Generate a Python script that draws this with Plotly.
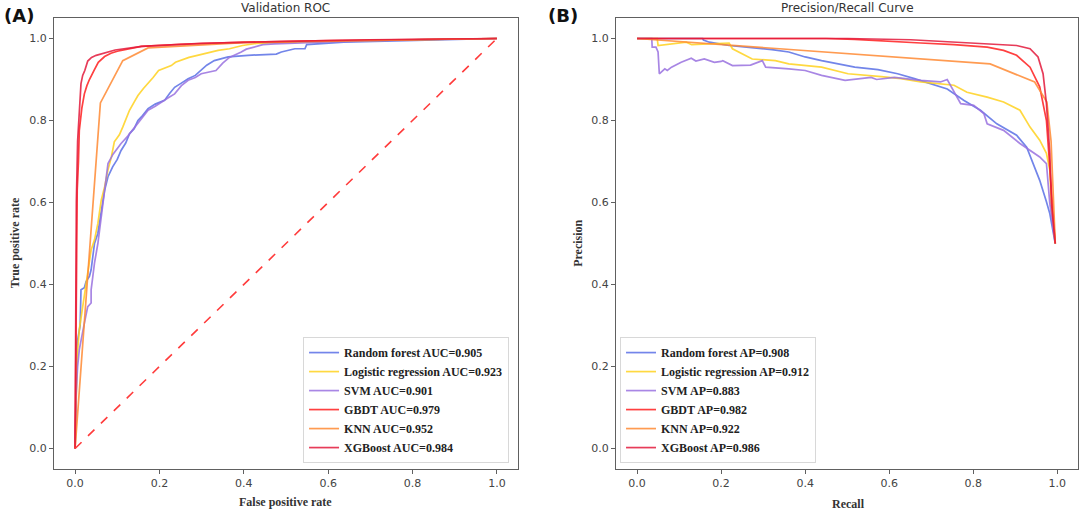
import plotly.graph_objects as go

# ---------------- ROC data (false positive rate / true positive rate) ----------------
rf_fpr = [0, 0.002, 0.004, 0.005, 0.012, 0.014, 0.022, 0.026, 0.034, 0.038, 0.042, 0.046, 0.054, 0.058, 0.062, 0.07,
          0.078, 0.089, 0.1, 0.109, 0.12, 0.129, 0.14, 0.149, 0.16, 0.173, 0.19, 0.212, 0.224, 0.236, 0.25, 0.268,
          0.285, 0.299, 0.312, 0.33, 0.345, 0.363, 0.41, 0.458, 0.477, 0.489, 0.521, 0.545, 0.549, 0.637, 0.8, 1.0]
rf_tpr = [0, 0.1, 0.2, 0.258, 0.3, 0.387, 0.392, 0.407, 0.42, 0.436, 0.468, 0.5, 0.525, 0.55, 0.581, 0.63,
          0.663, 0.687, 0.705, 0.727, 0.745, 0.768, 0.78, 0.8, 0.812, 0.829, 0.84, 0.849, 0.866, 0.881, 0.89, 0.902,
          0.91, 0.922, 0.935, 0.946, 0.95, 0.955, 0.959, 0.962, 0.962, 0.967, 0.975, 0.975, 0.985, 0.991, 0.995, 1.0]

lr_fpr = [0, 0.003, 0.005, 0.01, 0.018, 0.026, 0.038, 0.046, 0.054, 0.062, 0.068, 0.07, 0.078, 0.086, 0.093,
          0.105, 0.113, 0.129, 0.14, 0.149, 0.162, 0.173, 0.185, 0.198, 0.228, 0.238, 0.27, 0.29, 0.318, 0.339,
          0.366, 0.397, 0.43, 0.6, 0.8, 1.0]
lr_tpr = [0, 0.15, 0.225, 0.29, 0.346, 0.411, 0.484, 0.509, 0.549, 0.606, 0.63, 0.638, 0.68, 0.711, 0.748,
          0.765, 0.784, 0.825, 0.845, 0.861, 0.878, 0.89, 0.905, 0.922, 0.934, 0.942, 0.954, 0.959, 0.966, 0.971,
          0.975, 0.983, 0.988, 0.993, 0.997, 1.0]

svm_fpr = [0, 0.002, 0.006, 0.01, 0.022, 0.03, 0.038, 0.038, 0.042, 0.046, 0.054, 0.062, 0.068, 0.078, 0.09,
           0.109, 0.125, 0.141, 0.158, 0.173, 0.19, 0.204, 0.22, 0.236, 0.252, 0.268, 0.285, 0.299, 0.315, 0.334,
           0.35, 0.366, 0.394, 0.406, 0.445, 0.473, 0.6, 0.8, 1.0]
svm_tpr = [0, 0.127, 0.2, 0.241, 0.306, 0.346, 0.355, 0.387, 0.419, 0.452, 0.5, 0.565, 0.622, 0.695, 0.718,
           0.744, 0.762, 0.784, 0.805, 0.825, 0.835, 0.845, 0.855, 0.865, 0.885, 0.898, 0.905, 0.914, 0.918, 0.922,
           0.94, 0.954, 0.967, 0.974, 0.985, 0.987, 0.992, 0.997, 1.0]

gbdt_fpr = [0, 0.002, 0.004, 0.005, 0.008, 0.01, 0.016, 0.022, 0.028, 0.034, 0.045, 0.055, 0.07, 0.085, 0.1,
            0.13, 0.157, 0.25, 0.4, 0.6, 0.8, 1.0]
gbdt_tpr = [0, 0.2, 0.45, 0.63, 0.7, 0.776, 0.83, 0.865, 0.885, 0.9, 0.922, 0.942, 0.956, 0.964, 0.969,
            0.975, 0.981, 0.986, 0.991, 0.995, 0.998, 1.0]

knn_fpr = [0, 0.06, 0.113, 0.173, 0.4, 1.0]
knn_tpr = [0, 0.843, 0.946, 0.977, 0.99, 1.0]

xgb_fpr = [0, 0.001, 0.003, 0.006, 0.01, 0.014, 0.018, 0.023, 0.03, 0.039, 0.05, 0.063, 0.095, 0.158, 0.3,
           0.5, 0.7, 1.0]
xgb_tpr = [0, 0.3, 0.6, 0.75, 0.84, 0.89, 0.91, 0.922, 0.945, 0.954, 0.959, 0.963, 0.972, 0.981, 0.988,
           0.993, 0.997, 1.0]

chance_x = [0, 1]
chance_y = [0, 1]

# ---------------- Precision / Recall data ----------------
rf_rec = [0, 0.156, 0.158, 0.172, 0.219, 0.267, 0.321, 0.361, 0.40, 0.439, 0.479, 0.518, 0.573, 0.62, 0.66,
          0.699, 0.738, 0.778, 0.817, 0.856, 0.903, 0.927, 0.943, 0.958, 0.974, 0.982, 0.995]
rf_prec = [1.0, 1.0, 0.996, 0.991, 0.983, 0.979, 0.973, 0.967, 0.955, 0.946, 0.938, 0.93, 0.924, 0.914, 0.902,
           0.89, 0.877, 0.849, 0.825, 0.792, 0.764, 0.735, 0.695, 0.654, 0.602, 0.573, 0.5]

lr_rec = [0, 0.048, 0.05, 0.117, 0.13, 0.219, 0.227, 0.251, 0.274, 0.329, 0.361, 0.439, 0.502, 0.581, 0.628,
          0.675, 0.754, 0.785, 0.833, 0.872, 0.911, 0.935, 0.958, 0.974, 0.982, 0.986, 0.995]
lr_prec = [1.0, 1.0, 0.983, 0.991, 0.985, 0.989, 0.975, 0.963, 0.95, 0.946, 0.938, 0.93, 0.914, 0.907, 0.902,
           0.894, 0.886, 0.869, 0.857, 0.845, 0.825, 0.784, 0.752, 0.72, 0.679, 0.59, 0.5]

svm_rec = [0, 0.035, 0.036, 0.045, 0.05, 0.053, 0.066, 0.072, 0.082, 0.105, 0.129, 0.14, 0.16, 0.184, 0.2,
           0.204, 0.227, 0.27, 0.298, 0.306, 0.361, 0.40, 0.439, 0.46, 0.495, 0.557, 0.57, 0.612, 0.636, 0.675,
           0.722, 0.738, 0.77, 0.801, 0.825, 0.833, 0.872, 0.911, 0.958, 0.974, 0.982, 0.995]
svm_prec = [1.0, 1.0, 0.979, 0.979, 0.967, 0.914, 0.926, 0.922, 0.93, 0.942, 0.952, 0.945, 0.95, 0.942, 0.944,
            0.946, 0.934, 0.935, 0.946, 0.93, 0.926, 0.922, 0.91, 0.905, 0.898, 0.905, 0.9, 0.905, 0.902, 0.898,
            0.894, 0.9, 0.841, 0.837, 0.817, 0.792, 0.776, 0.744, 0.711, 0.695, 0.598, 0.5]

gbdt_rec = [0, 0.3, 0.45, 0.518, 0.597, 0.675, 0.754, 0.833, 0.872, 0.903, 0.935, 0.958, 0.974, 0.982, 0.995]
gbdt_prec = [1.0, 1.0, 1.0, 0.998, 0.993, 0.989, 0.985, 0.979, 0.971, 0.959, 0.93, 0.882, 0.80, 0.68, 0.5]

knn_rec = [0, 0.84, 0.946, 0.975, 0.985, 0.995]
knn_prec = [1.0, 0.938, 0.894, 0.845, 0.75, 0.5]

xgb_rec = [0, 0.3, 0.5, 0.651, 0.754, 0.833, 0.903, 0.935, 0.954, 0.966, 0.974, 0.982, 0.986, 0.995]
xgb_prec = [1.0, 1.0, 1.0, 0.997, 0.991, 0.987, 0.983, 0.975, 0.955, 0.914, 0.841, 0.72, 0.598, 0.5]

models = ["Random forest", "Logistic regression", "SVM", "GBDT", "KNN", "XGBoost"]
auc_vals = ["0.905", "0.923", "0.901", "0.979", "0.952", "0.984"]
ap_vals = ["0.908", "0.912", "0.883", "0.982", "0.922", "0.986"]
colors = ["#5a70e6", "#ffd21f", "#9a72e0", "#ff1f1f", "#ff8a33", "#e31a3c"]

tick_vals = [0.0, 0.2, 0.4, 0.6, 0.8, 1.0]
tick_text = ["0.0", "0.2", "0.4", "0.6", "0.8", "1.0"]

roc_x = [rf_fpr, lr_fpr, svm_fpr, gbdt_fpr, knn_fpr, xgb_fpr]
roc_y = [rf_tpr, lr_tpr, svm_tpr, gbdt_tpr, knn_tpr, xgb_tpr]
pr_x = [rf_rec, lr_rec, svm_rec, gbdt_rec, knn_rec, xgb_rec]
pr_y = [rf_prec, lr_prec, svm_prec, gbdt_prec, knn_prec, xgb_prec]

fig = go.Figure()

for i, m in enumerate(models):
    fig.add_trace(go.Scatter(
        x=roc_x[i], y=roc_y[i], mode="lines", name=f"{m} AUC={auc_vals[i]}",
        line=dict(color=colors[i], width=1.7), opacity=0.85,
        xaxis="x", yaxis="y", legend="legend"))
fig.add_trace(go.Scatter(
    x=chance_x, y=chance_y, mode="lines", showlegend=False,
    line=dict(color="#ff3b3b", width=1.6, dash="dash"), xaxis="x", yaxis="y"))

for i, m in enumerate(models):
    fig.add_trace(go.Scatter(
        x=pr_x[i], y=pr_y[i], mode="lines", name=f"{m} AP={ap_vals[i]}",
        line=dict(color=colors[i], width=1.7), opacity=0.85,
        xaxis="x2", yaxis="y2", legend="legend2"))

axis_common = dict(
    range=[-0.05, 1.05], tickvals=tick_vals, ticktext=tick_text,
    showline=True, mirror=True, linecolor="#606060", linewidth=1.3,
    ticks="outside", ticklen=4, tickwidth=1, tickcolor="#606060",
    showgrid=False, zeroline=False,
    tickfont=dict(family="DejaVu Sans", size=11, color="#444444"),
)

legend_common = dict(
    xanchor="left", yanchor="bottom", bgcolor="rgba(255,255,255,0.9)",
    bordercolor="#d8d8d8", borderwidth=1,
    font=dict(family="Liberation Serif", size=12, color="#222222", weight="bold"),
    itemwidth=30, tracegroupgap=0,
)

fig.update_layout(
    width=1080, height=510,
    margin=dict(l=0, r=0, t=0, b=0),
    paper_bgcolor="white", plot_bgcolor="white",
    xaxis=dict(domain=[0.05, 0.4796], anchor="y", **axis_common),
    yaxis=dict(domain=[0.0804, 0.9647], anchor="x", **axis_common),
    xaxis2=dict(domain=[0.5704, 0.9985], anchor="y2", **axis_common),
    yaxis2=dict(domain=[0.0804, 0.9647], anchor="x2", **axis_common),
    legend=dict(x=0.2806, y=0.092, **legend_common),
    legend2=dict(x=0.5741, y=0.092, **legend_common),
    showlegend=True,
)

title_font = dict(family="DejaVu Sans", size=12, color="#333333")
label_font = dict(family="Liberation Serif", size=12, color="#333333")
panel_font = dict(family="DejaVu Sans", size=18, color="#111111")

annotations = [
    dict(text="Validation ROC", x=0.2648, y=0.984, font=title_font),
    dict(text="Precision/Recall Curve", x=0.7843, y=0.984, font=title_font),
    dict(text="<b>(A)</b>", x=0.0015, y=0.970, xanchor="left", font=panel_font),
    dict(text="<b>(B)</b>", x=0.5055, y=0.970, xanchor="left", font=panel_font),
    dict(text="<b>False positive rate</b>", x=0.2640, y=0.015, font=label_font),
    dict(text="<b>Recall</b>", x=0.786, y=0.012, font=label_font),
    dict(text="<b>True positive rate</b>", x=0.014, y=0.5235, textangle=-90, font=label_font),
    dict(text="<b>Precision</b>", x=0.535, y=0.5235, textangle=-90, font=label_font),
]
for a in annotations:
    a.setdefault("xanchor", "center")
    a.update(xref="paper", yref="paper", showarrow=False, yanchor="middle")
fig.update_layout(annotations=annotations)

fig.write_html(
    "out.html",
    config={"displayModeBar": False},
    post_script="document.body.style.margin='0';document.body.style.padding='0';document.body.style.overflow='hidden';",
)
